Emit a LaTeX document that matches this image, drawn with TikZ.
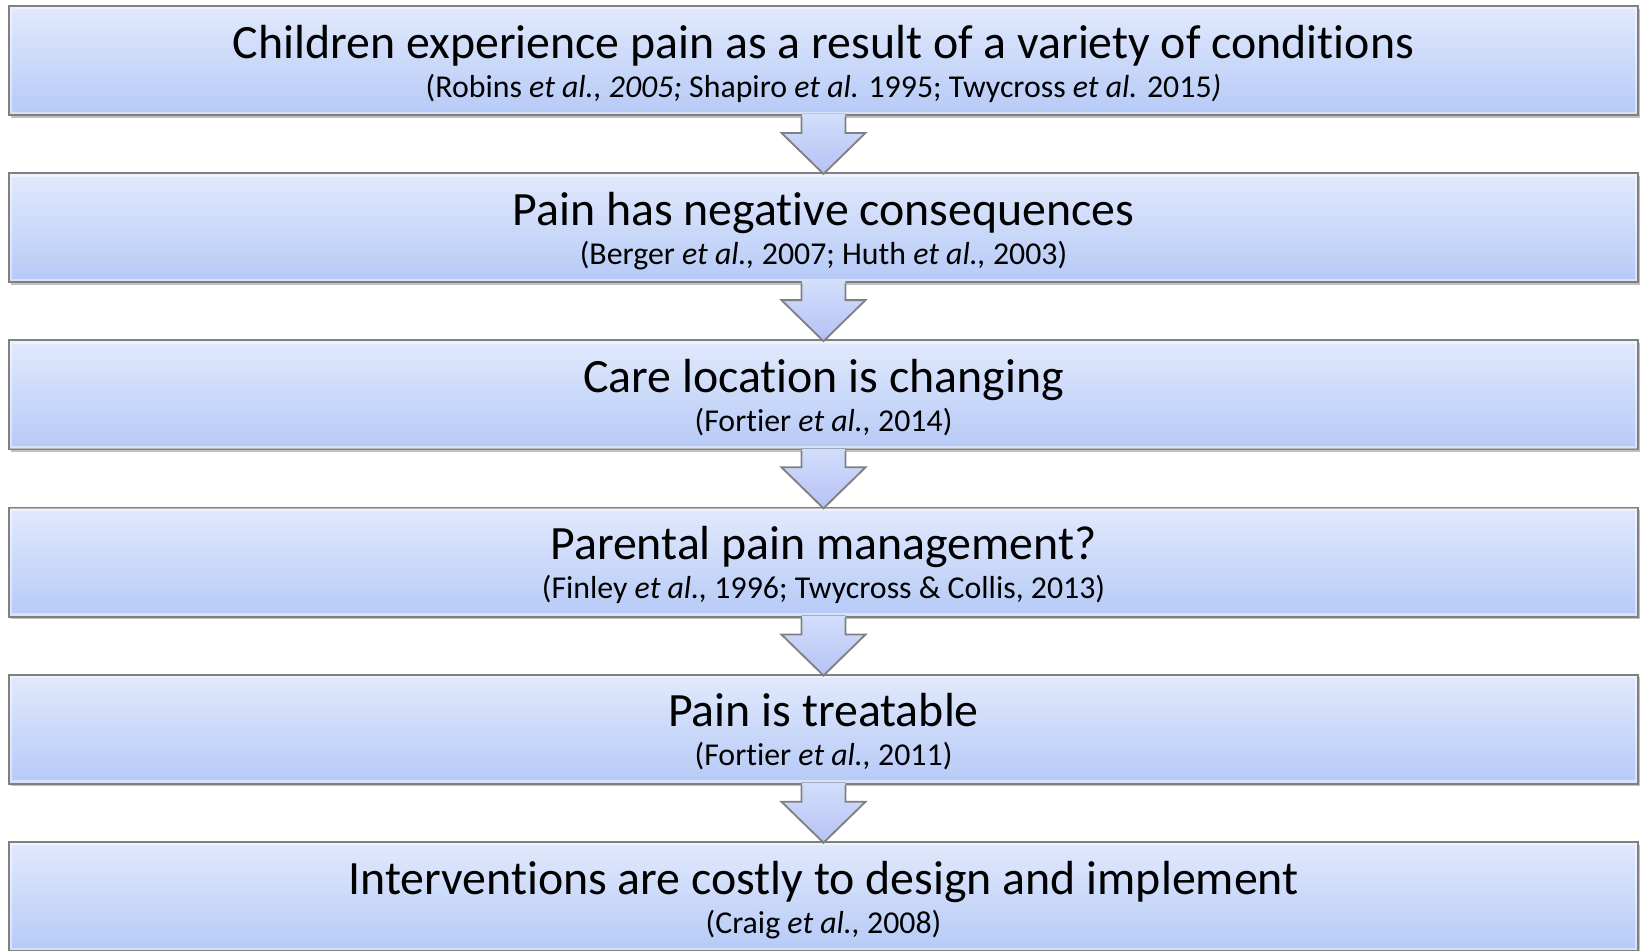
\documentclass[tikz,border=0pt]{standalone}
\usepackage{fontspec}
\setmainfont[Ligatures=NoCommon]{Carlito}
\usetikzlibrary{calc,shadows}
\definecolor{boxtop}{HTML}{E1E9FC}
\definecolor{boxbot}{HTML}{B6CAF7}
\definecolor{boxedge}{HTML}{808080}
\definecolor{arrtop}{HTML}{D2DEFB}
\definecolor{arrbot}{HTML}{B6C2F4}
\tikzset{
  stepbox/.style={draw=boxedge, line width=1.1pt, top color=boxtop, bottom color=boxbot,
    minimum width=977.4pt, minimum height=65.4pt, inner sep=0pt,
    drop shadow={shadow xshift=1.2pt, shadow yshift=-1.5pt, fill=black!55, opacity=0.45}},
  gloss/.style={draw=white, opacity=0.45, line width=1.5pt},
  titletext/.style={anchor=base, inner sep=0pt, font=\fontsize{28.7}{34}\selectfont},
  citetext/.style={anchor=base, inner sep=0pt, font=\fontsize{19.1}{23}\selectfont},
  arrowfill/.style={top color=arrtop, bottom color=arrbot},
  arrowedge/.style={draw=boxedge, line width=1.1pt, line join=miter},
}
% block arrow from the bottom of one box towards the top of the next
\newcommand{\blockarrow}[1]{%
  \fill[arrowfill] ($(#1.south)+(-22,-2)$) -- ($(#1.south)+(-22,17)$) -- ($(#1.south)+(-42,17)$)
     -- ($(#1.south)+(0,58)$) -- ($(#1.south)+(42,17)$) -- ($(#1.south)+(22,17)$)
     -- ($(#1.south)+(22,-2)$) -- cycle;
  \draw[arrowedge] ($(#1.south)+(-22,0.6)$) -- ($(#1.south)+(-22,17)$) -- ($(#1.south)+(-42,17)$)
     -- ($(#1.south)+(0,58)$) -- ($(#1.south)+(42,17)$) -- ($(#1.south)+(22,17)$)
     -- ($(#1.south)+(22,0.6)$);
}
\newcommand{\boxgloss}[1]{%
  \draw[gloss] ($(#1.north west)+(3,3)$) rectangle ($(#1.south east)+(-3,-3)$);
}
\begin{document}
\begin{tikzpicture}[x=0.6pt, y=-0.6pt]
  \useasboundingbox (0,0) rectangle (1640,950);
  \clip (0,0) rectangle (1640,950);

  \node[stepbox] (b1) at (823.5,60.5) {};
  \node[stepbox] (b2) at (823.5,227.7) {};
  \node[stepbox] (b3) at (823.5,394.9) {};
  \node[stepbox] (b4) at (823.5,562.1) {};
  \node[stepbox] (b5) at (823.5,729.3) {};
  \node[stepbox] (b6) at (823.5,896.5) {};
  \boxgloss{b1}\boxgloss{b2}\boxgloss{b3}\boxgloss{b4}\boxgloss{b5}\boxgloss{b6}

  \node[titletext] (t1) at ($(b1.north)+(0,53)$) {Children experience pain as a result of a variety of conditions};
  \node[citetext]  (c1) at ($(b1.north)+(0,92)$) {(Robins \textit{et al., 2005;} Shapiro \textit{et al.} 1995; Twycross \textit{et al.} 2015\textit{)}};

  \node[titletext] (t2) at ($(b2.north)+(0,53)$) {Pain has negative consequences};
  \node[citetext]  (c2) at ($(b2.north)+(0,92)$) {(Berger \textit{et al.,} 2007; Huth \textit{et al.,} 2003)};

  \node[titletext] (t3) at ($(b3.north)+(0,53)$) {Care location is changing};
  \node[citetext]  (c3) at ($(b3.north)+(0,92)$) {(Fortier \textit{et al.,} 2014)};

  \node[titletext] (t4) at ($(b4.north)+(0,53)$) {Parental pain management?};
  \node[citetext]  (c4) at ($(b4.north)+(0,92)$) {(Finley \textit{et al.,} 1996; Twycross \& Collis, 2013)};

  \node[titletext] (t5) at ($(b5.north)+(0,53)$) {Pain is treatable};
  \node[citetext]  (c5) at ($(b5.north)+(0,92)$) {(Fortier \textit{et al.,} 2011)};

  \node[titletext] (t6) at ($(b6.north)+(0,53)$) {Interventions are costly to design and implement};
  \node[citetext]  (c6) at ($(b6.north)+(0,92)$) {(Craig \textit{et al.,} 2008)};

  \blockarrow{b1}\blockarrow{b2}\blockarrow{b3}\blockarrow{b4}\blockarrow{b5}
\end{tikzpicture}
\end{document}
